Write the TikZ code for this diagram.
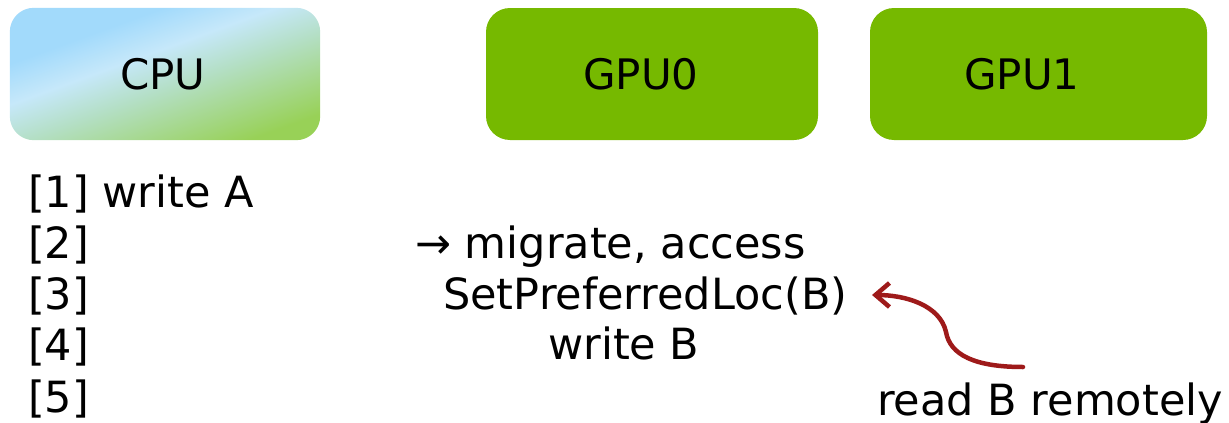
\documentclass[tikz,border=0pt]{standalone}
\usepackage{fontspec}
\setmainfont{DejaVu Sans}
\usetikzlibrary{arrows.meta}
\definecolor{gpugreen}{HTML}{76B900}
\definecolor{cpublue}{HTML}{A2DAFB}
\definecolor{cpulight}{HTML}{C6E8FA}
\definecolor{cpumid}{HTML}{B4DFC6}
\definecolor{cpugreen}{HTML}{98D157}
\definecolor{remotered}{HTML}{9E1A1A}
% CPU fill: blue upper left, pale band, green lower right
\pgfdeclareverticalshading{cpushade}{100bp}{%
  color(0bp)=(cpugreen); color(37bp)=(cpugreen); color(48bp)=(cpumid);
  color(53.5bp)=(cpulight); color(59bp)=(cpublue); color(100bp)=(cpublue)}
\tikzset{
  unitbox/.style={rounded corners=24pt, minimum width=#1, minimum height=132pt,
    inner sep=0pt},
  unitlabel/.style={inner sep=0pt, font=\fontsize{42}{48}\selectfont},
  steptext/.style={anchor=base west, inner sep=0pt, font=\fontsize{43}{48}\selectfont},
  remotearrow/.style={draw=remotered, line width=4.5pt, line cap=round,
    -{Straight Barb[length=14pt, width=24pt, line width=4.5pt]}}
}
\begin{document}
\begin{tikzpicture}[x=1pt, y=-1pt]
  \useasboundingbox (0,0) rectangle (1229,423);
  % processor boxes
  \node[unitbox=310pt] (cpu) at (165,74) {};
  \begin{scope}
    \clip[rounded corners=24pt] (cpu.south west) rectangle (cpu.north east);
    \shade[shading=cpushade, shading angle=20]
      (cpu.center) ++(-175,-175) rectangle ++(350,350);
  \end{scope}
  \node[unitbox=332pt, fill=gpugreen] (gpu0) at (652,74) {};
  \node[unitbox=337pt, fill=gpugreen] (gpu1) at (1038.5,74) {};
  \node[unitlabel] (cpulabel) at (163,74) {CPU};
  \node[unitlabel] (gpu0label) at (641,74) {GPU0};
  \node[unitlabel] (gpu1label) at (1022,74) {GPU1};
  % step numbers
  \node[steptext] (s1) at (28,207) {[1] write A};
  \node[steptext] (s2) at (28,258) {[2]};
  \node[steptext] (s3) at (28,309) {[3]};
  \node[steptext] (s4) at (28,360) {[4]};
  \node[steptext] (s5) at (28,412) {[5]};
  % GPU0 actions
  \node[steptext] (a2) at (415,258) {→ migrate, access};
  \node[steptext] (a3) at (443,309) {SetPreferredLoc(B)};
  \node[steptext] (a4) at (548,359) {write B};
  % GPU1 action
  \node[steptext] (r5) at (877,415) {read B remotely};
  \coordinate (tail) at (1023,367);
  \coordinate (tip) at (872,295);
  \draw[remotearrow] (tail) .. controls (975,367) and (950,355) .. (946,332)
    .. controls (940,305) and (905,295) .. (tip);
\end{tikzpicture}
\end{document}
